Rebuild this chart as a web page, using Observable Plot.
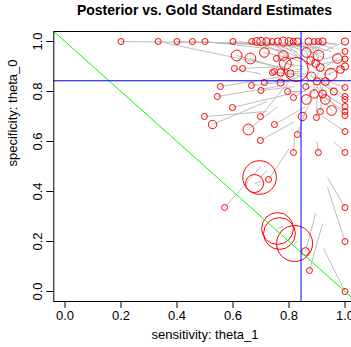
<!DOCTYPE html>
<html>
<head>
<meta charset="utf-8">
<script src="https://cdn.jsdelivr.net/npm/d3@7"></script>
<script src="https://cdn.jsdelivr.net/npm/@observablehq/plot@0.6"></script>
<style>
  html, body { margin: 0; padding: 0; overflow: hidden; background: #fff; }
  #chart { position: relative; width: 351px; height: 347px; overflow: hidden; }
  #chart svg { max-width: none !important; display: block; }
  #title {
    position: absolute; left: 53px; width: 303px; top: 2px; text-align: center;
    font: bold 14px "Liberation Sans", Arial, Helvetica, sans-serif; color: #000;
  }
</style>
</head>
<body>
<div id="chart"><div id="title">Posterior vs. Gold Standard Estimates</div></div>
<script>
// Per-study estimates: gold standard (circle) and posterior (end of the grey segment)
const goldSens = [0.20, 0.333, 0.40, 0.455, 0.50, 0.60, 0.667, 0.684, 0.70, 0.72, 0.74, 0.76, 0.78, 0.80, 0.815, 0.83, 0.87, 0.89, 0.905, 0.92, 1.00,
  0.613, 0.662, 0.712, 0.605, 0.634, 0.755, 0.748, 0.555, 0.666, 0.712, 0.544, 0.70, 0.598, 0.498, 0.527, 0.698, 0.655, 0.748, 0.698,
  0.795, 0.816, 0.862, 0.93, 0.952, 0.912, 0.898, 1.00, 1.00, 1.00, 1.00, 0.848, 0.83, 1.00, 0.816, 0.905, 1.00,
  0.695, 0.677, 0.727, 1.00, 1.00, 0.57, 0.759, 0.766, 0.82, 0.859, 0.873, 1.00,
  0.862, 0.877, 0.895, 0.912, 0.973, 0.984, 0.78, 0.787, 0.77, 0.805, 0.741, 0.826, 0.905, 0.95, 0.93, 0.96, 0.88, 0.90, 0.86, 0.89, 0.92,
  1.00, 1.00, 1.00, 1.00, 1.00, 0.77];
const goldSpec = [1.00, 1.00, 1.00, 1.00, 1.00, 1.00, 1.00, 1.00, 1.00, 1.00, 1.00, 1.00, 1.00, 1.00, 1.00, 1.00, 1.00, 1.00, 1.00, 1.00, 1.00,
  0.944, 0.932, 0.956, 0.892, 0.892, 0.932, 0.88, 0.82, 0.824, 0.836, 0.78, 0.804, 0.736, 0.70, 0.668, 0.70, 0.648, 0.668, 0.604,
  0.80, 0.776, 0.768, 0.768, 0.724, 0.72, 0.696, 0.816, 0.78, 0.768, 0.704, 0.70, 0.628, 0.64, 0.556, 0.556, 0.556,
  0.456, 0.432, 0.448, 0.336, 0.20, 0.336, 0.252, 0.232, 0.192, 0.16, 0.084, 0.00,
  0.956, 0.924, 0.912, 0.896, 0.932, 0.888, 0.944, 0.912, 0.876, 0.872, 0.876, 0.888, 0.944, 0.868, 0.84, 0.80, 0.86, 0.84, 0.82, 0.79, 0.79,
  0.96, 0.93, 0.90, 0.74, 0.72, 0.836];
const postSens = [0.97, 0.80, 0.84, 0.90, 0.78, 0.86, 0.80, 0.82, 0.83, 0.86, 0.90, 0.88, 0.85, 0.90, 0.93, 0.95, 0.92, 0.96, 0.97, 0.88, 0.90,
  0.75, 0.80, 0.82, 0.70, 0.78, 0.82, 0.85, 0.78, 0.80, 0.82, 0.76, 0.82, 0.84, 0.72, 0.72, 0.80, 0.76, 0.86, 0.82,
  0.86, 0.88, 0.90, 0.90, 0.90, 0.92, 0.90, 0.90, 0.92, 0.88, 0.93, 0.88, 0.86, 0.92, 0.82, 0.90, 0.96,
  0.72, 0.70, 0.80, 0.9375, 0.9375, 0.70, 0.78, 0.78, 0.83, 0.895, 0.92, 0.923,
  0.88, 0.89, 0.90, 0.90, 0.93, 0.94, 0.84, 0.85, 0.84, 0.86, 0.82, 0.85, 0.90, 0.92, 0.91, 0.92, 0.88, 0.89, 0.87, 0.89, 0.91,
  0.93, 0.92, 0.91, 0.91, 0.92, 0.84];
const postSpec = [0.99, 0.89, 0.985, 0.975, 0.965, 0.98, 0.95, 0.93, 0.96, 0.92, 0.95, 0.90, 0.93, 0.97, 0.93, 0.96, 0.90, 0.97, 0.99, 0.92, 0.95,
  0.90, 0.88, 0.93, 0.87, 0.90, 0.90, 0.86, 0.86, 0.84, 0.85, 0.82, 0.82, 0.80, 0.72, 0.76, 0.84, 0.74, 0.74, 0.68,
  0.80, 0.82, 0.82, 0.82, 0.80, 0.82, 0.78, 0.86, 0.84, 0.86, 0.78, 0.76, 0.72, 0.70, 0.62, 0.60, 0.60,
  0.48, 0.44, 0.57, 0.456, 0.416, 0.50, 0.26, 0.25, 0.20, 0.312, 0.272, 0.172,
  0.92, 0.90, 0.88, 0.86, 0.90, 0.87, 0.92, 0.90, 0.88, 0.87, 0.87, 0.89, 0.91, 0.87, 0.85, 0.83, 0.87, 0.86, 0.85, 0.83, 0.83,
  0.93, 0.91, 0.88, 0.80, 0.78, 0.86];
// relative study weight (drives the circle size)
const weight = [1, 1, 1, 1, 1, 1, 1, 1.3, 1.4, 1.3, 1, 1.2, 1.5, 1.3, 1, 1.2, 1.2, 1, 1, 1.2, 1.2,
  1.8, 1.8, 1.6, 1, 1, 1, 1, 1, 1, 1, 1, 1, 1, 1, 1.4, 1, 1.8, 1, 1,
  1, 1, 1.6, 1.6, 1.6, 1, 1, 1, 1, 1, 1, 1.4, 1, 1, 1, 1, 1,
  5.6, 3, 1, 1, 1, 1, 5.3, 5.3, 6, 1.3, 1, 1,
  1.6, 1.3, 1.3, 1.3, 1.6, 1.3, 1.6, 2, 1.2, 1.2, 1, 4, 1.8, 2, 1.3, 1.2, 1.5, 1.2, 1, 1.4, 1.3,
  1, 1, 1.2, 1, 1, 1.2];

// pooled estimates and the chance line spec = 1 - sens
const meanSens = 0.843;
const meanSpec = 0.843;
const chanceIntercept = 1;
const chanceSlope = -1;

const xTicks = [0, 0.2, 0.4, 0.6, 0.8, 1.0];
const yTicks = [0, 0.2, 0.4, 0.6, 0.8, 1.0];
const xLabel = "sensitivity: theta_1";
const yLabel = "specificity: theta_0";

const studies = goldSens.map((s, i) => ({
  gs: s, gp: goldSpec[i], ps: postSens[i], pp: postSpec[i], w: weight[i]
}));

const xDomain = [-0.04, 1.04];
const yDomain = [-0.04, 1.04];
const chance = [{
  x1: xDomain[0], y1: chanceIntercept + chanceSlope * xDomain[0],
  x2: xDomain[1], y2: chanceIntercept + chanceSlope * xDomain[1]
}];
const fmt = d3.format(".1f");

const chart = Plot.plot({
  width: 356,
  height: 347,
  marginLeft: 53.3,
  marginRight: 0.3,
  marginTop: 31,
  marginBottom: 46,
  x: {domain: xDomain},
  y: {domain: yDomain},
  r: {type: "linear", domain: [0, 1], range: [0, 3]},
  style: {fontFamily: "'Liberation Sans', Arial, Helvetica, sans-serif", fontSize: "13px", background: "white", color: "black"},
  marks: [
    Plot.link(studies, {x1: "gs", y1: "gp", x2: "ps", y2: "pp", stroke: "#bebebe", strokeWidth: 1}),
    Plot.dot(studies, {x: "gs", y: "gp", r: "w", stroke: "#ff0000", fill: "none", strokeWidth: 1}),
    Plot.link(chance, {x1: "x1", y1: "y1", x2: "x2", y2: "y2", stroke: "#00ff00", strokeWidth: 1, clip: "frame"}),
    Plot.ruleX([meanSens], {stroke: "#0000ff", strokeWidth: 1}),
    Plot.ruleY([meanSpec], {stroke: "#0000ff", strokeWidth: 1}),
    Plot.frame({stroke: "#000", strokeWidth: 1}),
    Plot.axisX(xTicks, {tickSize: 7, tickPadding: 2, tickFormat: fmt, fontSize: 13, label: null}),
    Plot.axisY(yTicks, {tickSize: 7, tickFormat: () => "", label: null}),
    Plot.text(yTicks, {x: xDomain[0], y: d => d, text: d => fmt(d), rotate: -90, dx: -16, fontSize: 13}),
    Plot.text([xLabel], {frameAnchor: "bottom", dy: 37, text: d => d, fontSize: 13}),
    Plot.text([yLabel], {frameAnchor: "left", dx: -41, rotate: -90, text: d => d, fontSize: 13})
  ]
});
document.getElementById("chart").appendChild(chart);
</script>
</body>
</html>
